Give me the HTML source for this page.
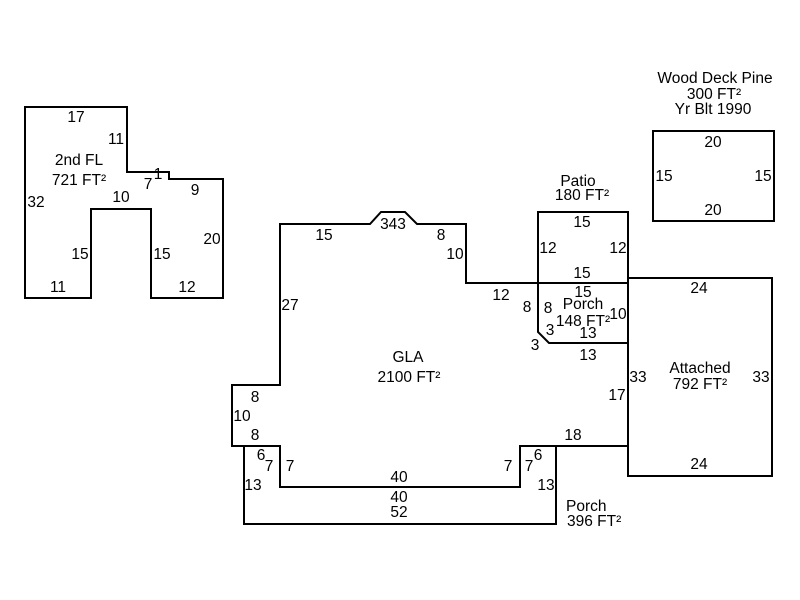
<!DOCTYPE html>
<html>
<head>
<meta charset="utf-8">
<style>
html,body{margin:0;padding:0;background:#fff;}
svg{display:block;}
text{font-family:"Liberation Sans",Arial,sans-serif;font-size:15.5px;fill:#000;}
</style>
</head>
<body>
<svg width="800" height="600" viewBox="0 0 800 600" xmlns="http://www.w3.org/2000/svg">
<rect width="800" height="600" fill="#fff"/>
<g fill="none" stroke="#000" stroke-width="2" stroke-linejoin="miter">
  <!-- 2nd FL -->
  <polygon points="25,107 127,107 127,172 169,172 169,179 223,179 223,298 151,298 151,209 91,209 91,298 25,298"/>
  <!-- GLA -->
  <polygon points="280,224 370,224 381,212 405,212 417,224 466,224 466,283 538,283 538,332 549,343 628,343 628,446 520,446 520,487 280,487 280,446 232,446 232,385 280,385"/>
  <!-- Patio -->
  <rect x="538" y="212" width="90" height="71"/>
  <!-- small porch -->
  <polyline points="538,283 628,283 628,343"/>
  <!-- Attached -->
  <rect x="628" y="278" width="144" height="198"/>
  <!-- Porch 396 -->
  <polyline points="244,446 244,524 556,524 556,446"/>
  <!-- Deck -->
  <rect x="653" y="131" width="121" height="90"/>
</g>
<g text-anchor="middle">
  <!-- 2nd FL -->
  <text x="76" y="122">17</text>
  <text x="116" y="144">11</text>
  <text x="79" y="165">2nd FL</text>
  <text x="79" y="185">721 FT²</text>
  <text x="36" y="207">32</text>
  <text x="121" y="202">10</text>
  <text x="148" y="189">7</text>
  <text x="158" y="179">1</text>
  <text x="195" y="195">9</text>
  <text x="212" y="244">20</text>
  <text x="80" y="259">15</text>
  <text x="162" y="259">15</text>
  <text x="58" y="292">11</text>
  <text x="187" y="292">12</text>

  <!-- GLA -->
  <text x="324" y="240">15</text>
  <text x="393" y="229">343</text>
  <text x="441" y="240">8</text>
  <text x="455" y="259">10</text>
  <text x="501" y="300">12</text>
  <text x="290" y="310">27</text>
  <text x="408" y="362">GLA</text>
  <text x="409" y="382">2100 FT²</text>
  <text x="527" y="312">8</text>
  <text x="535" y="350">3</text>
  <text x="588" y="360">13</text>
  <text x="617" y="400">17</text>
  <text x="573" y="440">18</text>
  <text x="255" y="402">8</text>
  <text x="242" y="421">10</text>
  <text x="255" y="440">8</text>
  <text x="290" y="471">7</text>
  <text x="399" y="482">40</text>
  <text x="508" y="471">7</text>

  <!-- Patio -->
  <text x="578" y="186">Patio</text>
  <text x="582" y="200">180 FT²</text>
  <text x="582" y="227">15</text>
  <text x="548" y="253">12</text>
  <text x="618" y="253">12</text>
  <text x="582" y="278">15</text>

  <!-- Porch 148 -->
  <text x="583" y="297">15</text>
  <text x="548" y="313">8</text>
  <text x="583" y="309">Porch</text>
  <text x="583" y="326">148 FT²</text>
  <text x="618" y="319">10</text>
  <text x="550" y="335">3</text>
  <text x="588" y="338">13</text>

  <!-- Porch 396 -->
  <text x="261" y="460">6</text>
  <text x="269" y="471">7</text>
  <text x="253" y="490">13</text>
  <text x="529" y="471">7</text>
  <text x="538" y="460">6</text>
  <text x="546" y="490">13</text>
  <text x="399" y="502">40</text>
  <text x="399" y="517">52</text>

  <!-- Attached -->
  <text x="699" y="293">24</text>
  <text x="700" y="373">Attached</text>
  <text x="700" y="389">792 FT²</text>
  <text x="638" y="382">33</text>
  <text x="761" y="382">33</text>
  <text x="699" y="469">24</text>

  <!-- Deck -->
  <text x="715" y="83">Wood Deck Pine</text>
  <text x="714" y="99">300 FT²</text>
  <text x="713" y="114">Yr Blt 1990</text>
  <text x="713" y="147">20</text>
  <text x="664" y="181">15</text>
  <text x="763" y="181">15</text>
  <text x="713" y="215">20</text>
</g>
<g text-anchor="start">
  <text x="566" y="511">Porch</text>
  <text x="567" y="526">396 FT²</text>
</g>
</svg>
</body>
</html>
